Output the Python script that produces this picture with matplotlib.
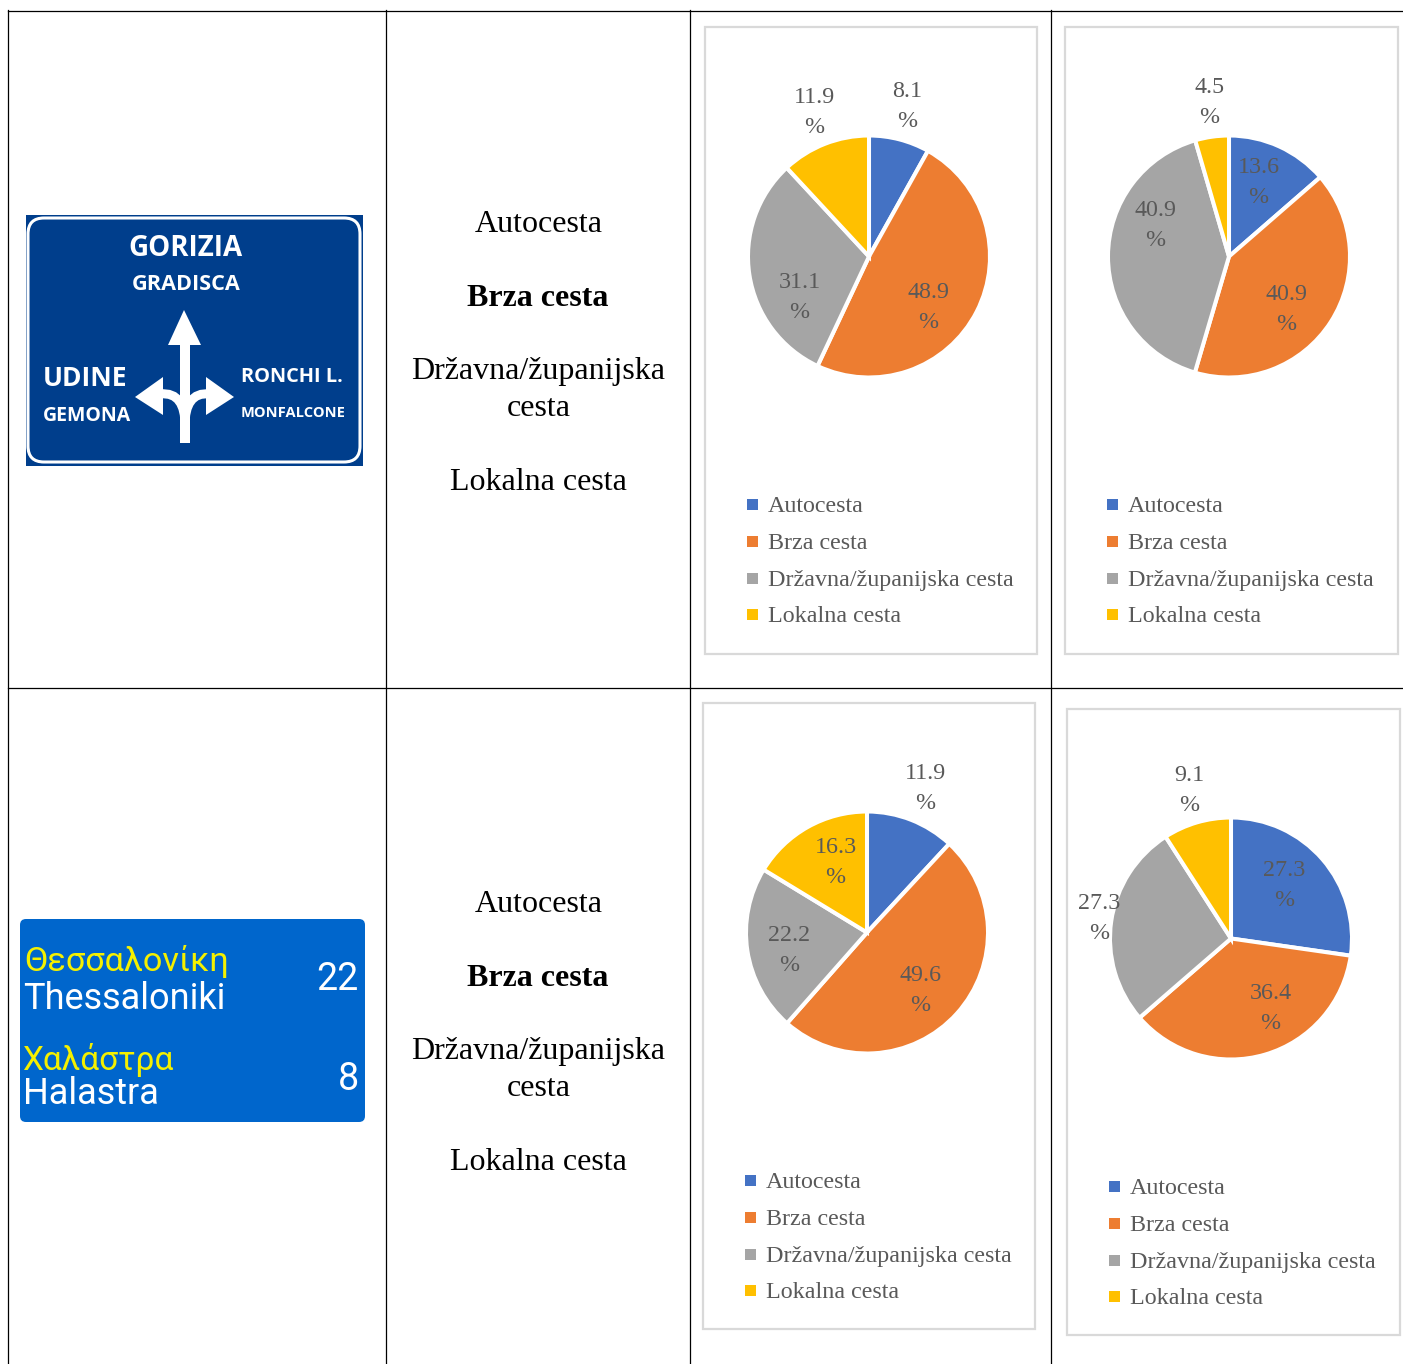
import matplotlib
matplotlib.use("Agg")
import matplotlib.pyplot as plt
from matplotlib.patches import Rectangle, FancyBboxPatch, Polygon, PathPatch
from matplotlib.path import Path

plt.rcParams['font.family'] = ['Liberation Serif', 'DejaVu Serif']

W, H = 1403, 1364
kategorije = ["Autocesta", "Brza cesta", "Državna/županijska cesta", "Lokalna cesta"]
boje = ["#4472C4", "#ED7D31", "#A5A5A5", "#FFC000"]
txt = "#595959"

vrijednosti_1 = [8.1, 48.9, 31.1, 11.9]
vrijednosti_2 = [13.6, 40.9, 40.9, 4.5]
vrijednosti_3 = [11.9, 49.6, 22.2, 16.3]
vrijednosti_4 = [27.3, 36.4, 27.3, 9.1]

fig = plt.figure(figsize=(W / 100, H / 100), dpi=100)
bg = fig.add_axes([0, 0, 1, 1])
bg.set_xlim(0, W)
bg.set_ylim(H, 0)
bg.axis('off')
bg.set_zorder(10)  # labels have to stay above the pies

# table lines
for x in [8, 385.5, 690, 1051]:
    bg.plot([x, x], [10, H], color='k', lw=0.9)
for y in [10.5, 688]:
    bg.plot([8, W], [y, y], color='k', lw=0.9)

# middle column
for y0 in [0, 680]:
    bg.text(538.5, 224 + y0, "Autocesta", fontsize=23, ha='center', va='center')
    bg.text(538, 298 + y0, "Brza cesta", fontsize=23, ha='center', va='center', weight='bold')
    bg.text(538.5, 371 + y0, "Državna/županijska", fontsize=23, ha='center', va='center')
    bg.text(538.5, 408 + y0, "cesta", fontsize=23, ha='center', va='center')
    bg.text(538.5, 482 + y0, "Lokalna cesta", fontsize=23, ha='center', va='center')

# road sign 1
bg.add_patch(Rectangle((26, 215), 337, 251, color='#003E8C', lw=0))
bg.add_patch(FancyBboxPatch((28, 218), 332, 244, boxstyle="round,pad=0,rounding_size=16",
                            fc='none', ec='white', lw=2.2))
sign = dict(color='white', family='Open Sans', weight='bold', va='center')
bg.text(185.5, 249, "GORIZIA", fontsize=20, ha='center', **sign)
bg.text(186, 284, "GRADISCA", fontsize=15.6, ha='center', **sign)
bg.text(43, 379, "UDINE", fontsize=19, ha='left', **sign)
bg.text(43, 416, "GEMONA", fontsize=14, ha='left', **sign)
bg.text(241, 377, "RONCHI L.", fontsize=14.4, ha='left', **sign)
bg.text(241, 413, "MONFALCONE", fontsize=10.5, ha='left', **sign)
bg.add_patch(Rectangle((180, 340), 10, 103, color='white', lw=0))
bg.add_patch(Polygon([[184, 310], [168, 345], [201, 345]], color='white', lw=0))
bg.add_patch(Polygon([[135, 397], [163, 377], [163, 415]], color='white', lw=0))
bg.add_patch(Polygon([[234, 397], [206, 377], [206, 415]], color='white', lw=0))
krivulje = [[(160, 394), (178, 392), (185, 405), (185, 425)],
            [(210, 394), (192, 392), (185, 405), (185, 425)]]
for k in krivulje:
    bg.add_patch(PathPatch(Path(k, [Path.MOVETO, Path.CURVE4, Path.CURVE4, Path.CURVE4]),
                           fc='none', ec='white', lw=6.5))

# road sign 2
bg.add_patch(FancyBboxPatch((20, 919), 345, 203, boxstyle="round,pad=0,rounding_size=6",
                            fc='#0066CC', ec='none'))
sign2 = dict(family='Roboto', va='center', ha='left')
bg.text(24, 962, "Θεσσαλονίκη", fontsize=24.7, color='#F4F000', **sign2)
bg.text(23, 999, "Thessaloniki", fontsize=26, color='white', **sign2)
bg.text(22, 1060, "Χαλάστρα", fontsize=24, color='#F4F000', **sign2)
bg.text(23, 1094, "Halastra", fontsize=26, color='white', **sign2)
bg.text(359, 979, "22", fontsize=27, color='white', family='Roboto', va='center', ha='right')
bg.text(359, 1079, "8", fontsize=27, color='white', family='Roboto', va='center', ha='right')


def panel(vals, box, centar, oznake, leg_x, leg_y):
    x0, y0, x1, y1 = box
    bg.add_patch(Rectangle((x0, y0), x1 - x0, y1 - y0, fc='none', ec='#D9D9D9', lw=1.6))
    r = 121
    ax = fig.add_axes([(centar[0] - r) / W, 1 - (centar[1] + r) / H, 2 * r / W, 2 * r / H])
    ax.pie(vals, colors=boje, startangle=90, counterclock=False, radius=1,
           wedgeprops=dict(edgecolor='white', linewidth=2.9))
    ax.set_xlim(-1, 1)
    ax.set_ylim(-1, 1)
    for v, (lx, ly) in zip(vals, oznake):
        bg.text(lx - 0.5, ly + 1.5, f"{v}\n%", fontsize=17.3, color=txt, ha='center', va='center',
                linespacing=1.55)
    for i, k in enumerate(kategorije):
        y = leg_y + i * 36.8
        bg.add_patch(Rectangle((leg_x, y - 6), 11, 11, color=boje[i], lw=0))
        bg.text(leg_x + 21, y + 1.5, k, fontsize=17.3, color=txt, ha='left', va='center')


panel(vrijednosti_1, (705, 27, 1037, 654), (869, 256.5),
      [(908, 105), (929, 306), (800, 296), (815, 111)], 747, 505)
panel(vrijednosti_2, (1065, 27, 1398, 654), (1229, 256.5),
      [(1259, 181), (1287, 308), (1156, 224), (1210, 101)], 1107, 505)
panel(vrijednosti_3, (703, 703, 1035, 1329), (867, 932.5),
      [(926, 787), (921, 989), (790, 949), (836, 861)], 745, 1181)
panel(vrijednosti_4, (1067, 709, 1400, 1335), (1231, 938.5),
      [(1285, 884), (1271, 1007), (1100, 917), (1190, 789)], 1109, 1187)

fig.savefig("out.png", dpi=100)
